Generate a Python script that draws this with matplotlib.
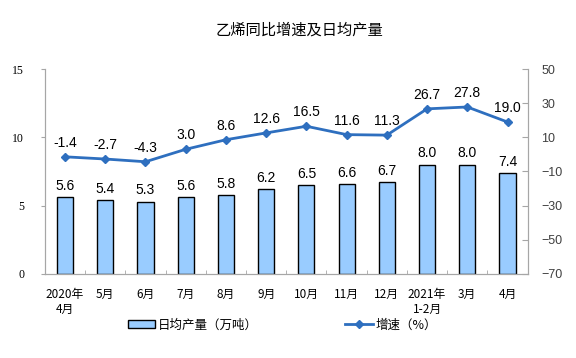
import numpy as np
import matplotlib
matplotlib.use("Agg")
import matplotlib.pyplot as plt
from matplotlib.ticker import FixedLocator

plt.rcParams['font.family'] = ['Noto Sans CJK SC', 'DejaVu Sans']
plt.rcParams['axes.unicode_minus'] = True

months = ['2020年\n4月', '5月', '6月', '7月', '8月', '9月', '10月',
          '11月', '12月', '2021年\n1-2月', '3月', '4月']
output = [5.6, 5.4, 5.3, 5.6, 5.8, 6.2, 6.5, 6.6, 6.7, 8.0, 8.0, 7.4]
growth = [-1.4, -2.7, -4.3, 3.0, 8.6, 12.6, 16.5, 11.6, 11.3, 26.7, 27.8, 19.0]

BAR_COLOR = '#99CCFF'
LINE_COLOR = '#2E6FBF'
AXIS_GRAY = '#A6A6A6'

fig = plt.figure(figsize=(5.76, 3.58), dpi=100)
ax = fig.add_axes([0.078, 0.235, 0.838, 0.572])
x = np.arange(len(months))

bars = ax.bar(x, output, width=0.4, color=BAR_COLOR, edgecolor='black',
              linewidth=1.0, label='日均产量（万吨）', zorder=2)
for xi, v in zip(x, output):
    ax.annotate(f'{v:.1f}', (xi, v), xytext=(0, 3), textcoords='offset points',
                ha='center', va='bottom', fontsize=10, family='Liberation Sans')

ax.set_xlim(-0.5, len(months) - 0.5)
ax.set_ylim(0, 15)
ax.set_yticks([0, 5, 10, 15])
ax.set_yticklabels(['0', '5', '10', '15'], family='Liberation Serif', fontsize=8.5)
ax.tick_params(axis='y', direction='out', length=3, color=AXIS_GRAY, pad=12)
ax.set_xticks(x)
ax.set_xticklabels(months, fontsize=8.5, linespacing=1.2)
ax.tick_params(axis='x', which='major', length=0, pad=10)
ax.xaxis.set_minor_locator(FixedLocator(np.arange(0.5, len(months) - 1, 1.0)))
ax.tick_params(axis='x', which='minor', direction='in', length=3, color=AXIS_GRAY)

for side in ['left', 'bottom', 'right']:
    ax.spines[side].set_color(AXIS_GRAY)
ax.spines['top'].set_visible(False)

ax2 = ax.twinx()
line, = ax2.plot(x, growth, color=LINE_COLOR, linewidth=2, marker='D',
                 markersize=4.5, label='增速（%）')
for xi, v in zip(x, growth):
    ax2.annotate(f'{v:.1f}', (xi, v), xytext=(0, 5), textcoords='offset points',
                 ha='center', va='bottom', fontsize=10, family='Liberation Sans')
ax2.set_ylim(-70, 50)
ax2.set_yticks(np.arange(-70, 51, 20))
ax2.set_yticklabels([f'{t}'.replace('-', '\u2212') for t in range(-70, 51, 20)],
                    family='Liberation Sans', fontsize=9, color='#404040')
ax2.tick_params(axis='y', direction='in', length=4, color=AXIS_GRAY, pad=10)
for side in ['left', 'bottom', 'right']:
    ax2.spines[side].set_color(AXIS_GRAY)
ax2.spines['top'].set_visible(False)

fig.text(0.52, 0.915, '乙烯同比增速及日均产量', ha='center', va='center', fontsize=11)

fig.legend([bars, line], ['日均产量（万吨）', '增速（%）'], loc='center',
           bbox_to_anchor=(0.49, 0.092), ncol=2, frameon=False, fontsize=9,
           handlelength=2.2, handleheight=0.6, columnspacing=7.0, handletextpad=0.2)

fig.savefig('out.png', dpi=100)
